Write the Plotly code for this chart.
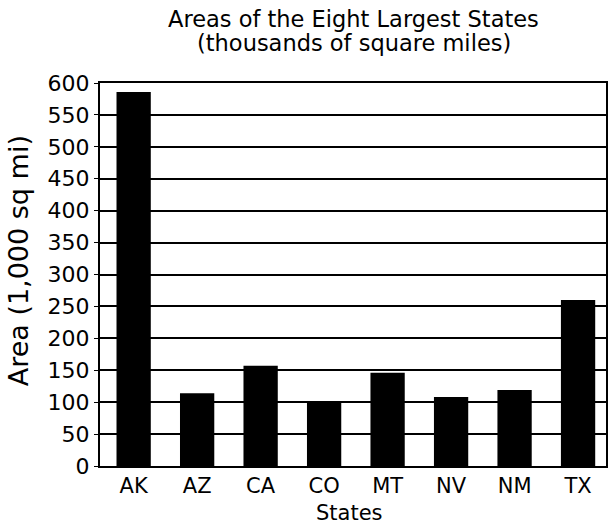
import plotly.graph_objects as go

states = ["AK", "AZ", "CA", "CO", "MT", "NV", "NM", "TX"]
areas = [586, 114, 157, 102, 146, 108, 119, 260]
y_ticks = list(range(0, 601, 50))

title_lines = ["Areas of the Eight Largest States", "(thousands of square miles)"]
x_title = "States"
y_title = "Area (1,000 sq mi)"

font_family = "DejaVu Sans, Liberation Sans, Arial, sans-serif"

# plot-area geometry in pixels (used to place the free-standing titles)
W, H = 610, 532
L, R, T, B = 100, 2, 83, 66
plot_w = W - L - R
plot_h = H - T - B


def px_x(px):
    return (px - L) / plot_w


def px_y(py):
    return (H - B - py) / plot_h


fig = go.Figure(
    go.Bar(
        x=states,
        y=areas,
        marker=dict(color="black", line=dict(width=0)),
        width=0.54,
    )
)

fig.update_layout(
    width=W,
    height=H,
    margin=dict(l=L, r=R, t=T, b=B),
    paper_bgcolor="white",
    plot_bgcolor="white",
    font=dict(family=font_family, color="black", size=21),
    showlegend=False,
)

annotations = [
    dict(text=title_lines[0], x=px_x(355), y=px_y(19), size=22.5, angle=0),
    dict(text=title_lines[1], x=px_x(355), y=px_y(43), size=22.5, angle=0),
    dict(text=x_title, x=px_x(350), y=px_y(513), size=21, angle=0),
    dict(text=y_title, x=px_x(18), y=px_y(261), size=27, angle=-90),
]
for a in annotations:
    fig.add_annotation(
        text=a["text"],
        x=a["x"],
        y=a["y"],
        xref="paper",
        yref="paper",
        xanchor="center",
        yanchor="middle",
        showarrow=False,
        textangle=a["angle"],
        borderpad=0,
        font=dict(size=a["size"], family=font_family, color="black"),
    )

fig.update_xaxes(
    range=[-0.53, 7.44],
    showline=True,
    linecolor="black",
    linewidth=2,
    mirror=True,
    showgrid=False,
    ticks="",
    tickfont=dict(size=21),
)

fig.update_yaxes(
    range=[0, 600],
    tickvals=y_ticks,
    showline=True,
    linecolor="black",
    linewidth=2,
    mirror=True,
    showgrid=True,
    gridcolor="black",
    gridwidth=2,
    ticks="outside",
    ticklen=4,
    tickcolor="black",
    tickfont=dict(size=22),
)

fig.write_html("out.html")
